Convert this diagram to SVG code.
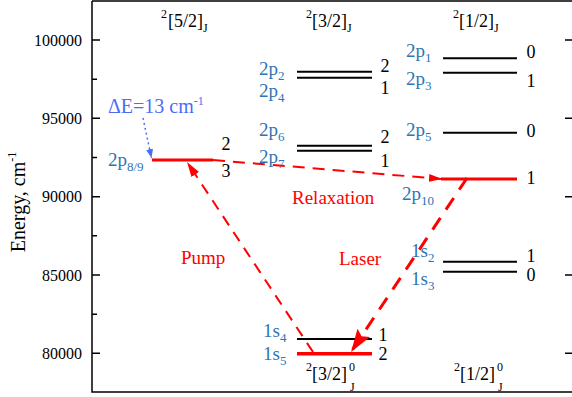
<svg xmlns="http://www.w3.org/2000/svg" width="572" height="397" viewBox="0 0 572 397">
<style>
text{font-family:"Liberation Serif","Times New Roman",serif;}
.tick{font-size:16px;fill:#000;text-anchor:end;}
.lbl{font-size:19px;fill:#2E74B5;}
.lbl .s{font-size:13px;}
.j{font-size:18px;fill:#000;text-anchor:middle;}
.hd{font-size:18px;fill:#000;}
.red{font-size:19px;fill:#FF0000;}
.s{font-size:12px;}
.lvl{stroke:#000;stroke-width:2;}
.rlvl{stroke:#FF0000;stroke-width:3.5;}
.ax{stroke:#000;stroke-width:1.5;fill:none;}
</style>
<defs>
<marker id="hPump" markerUnits="userSpaceOnUse" markerWidth="16" markerHeight="10" refX="15" refY="5" orient="auto"><path d="M0,0.5 L15,5 L0,9.5 z" fill="#FF0000"/></marker>
<marker id="hRel" markerUnits="userSpaceOnUse" markerWidth="14" markerHeight="10" refX="13" refY="5" orient="auto"><path d="M0,1 L13,5 L0,9 z" fill="#FF0000"/></marker>
<marker id="hLas" markerUnits="userSpaceOnUse" markerWidth="24" markerHeight="16" refX="23" refY="8" orient="auto"><path d="M0,0.5 L23,8 L0,15.5 L4,8 z" fill="#FF0000"/></marker>
<marker id="hDot" markerUnits="userSpaceOnUse" markerWidth="10" markerHeight="8" refX="9" refY="4" orient="auto"><path d="M0,0.5 L9,4 L0,7.5 z" fill="#4A6CF7"/></marker>
</defs>

<g id="axes">
<path class="ax" d="M92,1 L573,1 M92,1 L92,392 L573,392"/>
<path class="ax" d="M92,40 h8 M92,118.3 h8 M92,196.7 h8 M92,275 h8 M92,353.3 h8 M92,79.2 h5 M92,157.5 h5 M92,235.8 h5 M92,314.2 h5 M572,40 h-7 M572,118.3 h-7 M572,196.7 h-7 M572,275 h-7 M572,353.3 h-7"/>
<text class="tick" x="82" y="45.5">100000</text>
<text class="tick" x="82" y="123.8">95000</text>
<text class="tick" x="82" y="202.2">90000</text>
<text class="tick" x="82" y="280.5">85000</text>
<text class="tick" x="82" y="358.8">80000</text>
<text transform="translate(25,202) rotate(-90)" text-anchor="middle" font-size="20" fill="#000">Energy, cm<tspan class="s" dy="-9">-1</tspan></text>
</g>

<g id="headers">
<text class="hd" x="168" y="27"><tspan class="s" x="161" dy="-9">2</tspan><tspan x="168" dy="9">[5/2]</tspan><tspan class="s" dy="5">J</tspan></text>
<text class="hd" x="312" y="27"><tspan class="s" x="306" dy="-9">2</tspan><tspan x="312" dy="9">[3/2]</tspan><tspan class="s" dy="5">J</tspan></text>
<text class="hd" x="459" y="27"><tspan class="s" x="453" dy="-9">2</tspan><tspan x="459" dy="9">[1/2]</tspan><tspan class="s" dy="5">J</tspan></text>
<text class="hd" x="312" y="380"><tspan class="s" x="306" dy="-9">2</tspan><tspan x="312" dy="9">[3/2]</tspan><tspan class="s" x="349" dy="-9">0</tspan><tspan class="s" x="350" dy="20">J</tspan></text>
<text class="hd" x="460" y="380"><tspan class="s" x="454" dy="-9">2</tspan><tspan x="460" dy="9">[1/2]</tspan><tspan class="s" x="497" dy="-9">0</tspan><tspan class="s" x="498" dy="20">J</tspan></text>
</g>

<g id="level-2p8-9">
<line class="rlvl" x1="152" y1="160" x2="213" y2="160" style="stroke-width:3"/>
<text class="lbl" x="108" y="166">2p<tspan class="s" dy="5">8/9</tspan></text>
<text class="j" x="226" y="150">2</text>
<text class="j" x="226" y="177">3</text>
</g>

<g id="delta-e">
<text x="108" y="113" font-size="20" fill="#4A6CF7">ΔE=13 cm<tspan class="s" dy="-8">-1</tspan></text>
</g>

<g id="level-2p2-2p4">
<line class="lvl" x1="297" y1="71.7" x2="372" y2="71.7"/>
<line class="lvl" x1="297" y1="77.7" x2="372" y2="77.7"/>
<text class="lbl" x="259" y="75">2p<tspan class="s" dy="5">2</tspan></text>
<text class="lbl" x="259" y="97">2p<tspan class="s" dy="5">4</tspan></text>
<text class="j" x="385" y="72">2</text>
<text class="j" x="385" y="94">1</text>
</g>

<g id="level-2p6-2p7">
<line class="lvl" x1="297" y1="145.7" x2="372" y2="145.7"/>
<line class="lvl" x1="297" y1="150.7" x2="372" y2="150.7"/>
<text class="lbl" x="259" y="136">2p<tspan class="s" dy="5">6</tspan></text>
<text class="lbl" x="259" y="163">2p<tspan class="s" dy="5">7</tspan></text>
<text class="j" x="385" y="143">2</text>
<text class="j" x="385" y="167">1</text>
</g>

<g id="level-2p1-2p3">
<line class="lvl" x1="443" y1="58.3" x2="517" y2="58.3"/>
<line class="lvl" x1="443" y1="72.7" x2="517" y2="72.7"/>
<text class="lbl" x="406" y="57">2p<tspan class="s" dy="5">1</tspan></text>
<text class="lbl" x="406" y="85">2p<tspan class="s" dy="5">3</tspan></text>
<text class="j" x="531" y="58">0</text>
<text class="j" x="531" y="87">1</text>
</g>

<g id="level-2p5">
<line class="lvl" x1="443" y1="132.7" x2="517" y2="132.7"/>
<text class="lbl" x="406" y="136">2p<tspan class="s" dy="5">5</tspan></text>
<text class="j" x="531" y="137">0</text>
</g>

<g id="level-2p10">
<line class="rlvl" x1="441" y1="179" x2="517" y2="179" style="stroke-width:3"/>
<text class="lbl" x="402" y="200">2p<tspan class="s" dy="5">10</tspan></text>
<text class="j" x="531" y="184">1</text>
</g>

<g id="level-1s2-1s3">
<line class="lvl" x1="443" y1="261.7" x2="517" y2="261.7"/>
<line class="lvl" x1="443" y1="271.7" x2="517" y2="271.7"/>
<text class="lbl" x="411" y="257">1s<tspan class="s" dy="5">2</tspan></text>
<text class="lbl" x="411" y="285">1s<tspan class="s" dy="5">3</tspan></text>
<text class="j" x="531" y="262">1</text>
<text class="j" x="531" y="281">0</text>
</g>

<g id="level-1s4-1s5">
<line class="lvl" x1="297" y1="339" x2="372" y2="339"/>
<line class="rlvl" x1="297" y1="353.7" x2="372" y2="353.7"/>
<text class="lbl" x="263" y="337">1s<tspan class="s" dy="5">4</tspan></text>
<text class="lbl" x="263" y="360">1s<tspan class="s" dy="5">5</tspan></text>
<text class="j" x="383" y="341">1</text>
<text class="j" x="383" y="360">2</text>
</g>

<g id="connectors">
<line x1="143" y1="118" x2="151.5" y2="158" stroke="#4A6CF7" stroke-width="1.5" stroke-dasharray="2 3" marker-end="url(#hDot)"/>
<line x1="313" y1="352" x2="187" y2="162" stroke="#FF0000" stroke-width="2" stroke-dasharray="11 8" marker-end="url(#hPump)"/>
<line x1="213" y1="160" x2="442" y2="179" stroke="#FF0000" stroke-width="2" stroke-dasharray="12 8" marker-end="url(#hRel)"/>
<line x1="467" y1="178" x2="351" y2="352" stroke="#FF0000" stroke-width="3" stroke-dasharray="14 10" marker-end="url(#hLas)"/>
<text class="red" x="181" y="264">Pump</text>
<text class="red" x="292" y="204">Relaxation</text>
<text class="red" x="339" y="265">Laser</text>
</g>
</svg>
